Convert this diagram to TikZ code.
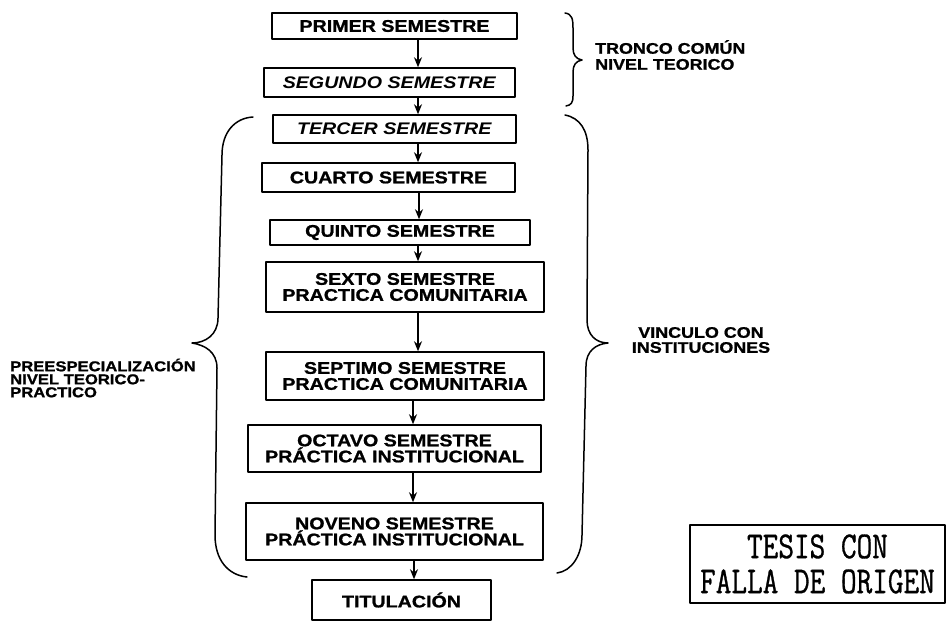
\documentclass[tikz,border=0pt]{standalone}
\usepackage{fontspec}
\setmainfont{Liberation Sans}[FakeStretch=1.17,BoldFeatures={FakeBold=1.2}]
\newfontfamily\stampfont{Latin Modern Mono}[FakeStretch=0.8,FakeBold=0.8]
\usetikzlibrary{arrows.meta}

\begin{document}
\begin{tikzpicture}[x=1pt,y=-1pt,>={Stealth[length=10pt,width=8pt]},line join=round,line cap=round,
    sem/.style={draw,line width=1.5pt,inner sep=0pt,align=center,font=\fontsize{16.8}{16}\selectfont\bfseries},
    lbl/.style={inner sep=0pt,font=\fontsize{15.3}{16}\selectfont\bfseries},
    brace/.style={line width=1.5pt}]
    \useasboundingbox (0,0) rectangle (947,621);
    \clip (0,0) rectangle (947,621);
    \node[sem,minimum width=245,minimum height=26] (b1) at (394.5,26) {PRIMER SEMESTRE};
    \node[sem,minimum width=251,minimum height=29] (b2) at (389.5,82.5) {\textit{SEGUNDO SEMESTRE}};
    \node[sem,minimum width=243,minimum height=28] (b3) at (394.5,129) {\textit{TERCER SEMESTRE}};
    \node[sem,minimum width=253,minimum height=29] (b4) at (388.5,177.5) {CUARTO SEMESTRE};
    \node[sem,minimum width=260,minimum height=25] (b5) at (400,232.5) {QUINTO SEMESTRE};
    \node[sem,minimum width=278,minimum height=50] (b6) at (405,287) {SEXTO SEMESTRE\\PRACTICA COMUNITARIA};
    \node[sem,minimum width=278,minimum height=48] (b7) at (405,376) {SEPTIMO SEMESTRE\\PRACTICA COMUNITARIA};
    \node[sem,minimum width=293,minimum height=47] (b8) at (394.5,448.5) {OCTAVO SEMESTRE\\PRÁCTICA INSTITUCIONAL};
    \node[sem,minimum width=297,minimum height=57] (b9) at (394.5,531.5) {NOVENO SEMESTRE\\PRÁCTICA INSTITUCIONAL};
    \node[sem,minimum width=179,minimum height=40] (b10) at (401.5,600) {TITULACIÓN};
    \foreach \a/\b/\x in {b1/b2/418,b2/b3/418,b3/b4/418,b4/b5/419,b5/b6/418,b6/b7/418,b7/b8/413,b8/b9/413,b9/b10/414}
        \draw[->,line width=1.5pt] (\a.south -| \x,0) -- (\b.north -| \x,0);
    \draw[brace] (565,13) .. controls (572,14) and (573,19) .. (573,28) -- (573,48)
        .. controls (573,55) and (576,59) .. (582,60) .. controls (576,61) and (573,65) .. (573,72)
        -- (573,96) .. controls (573,103) and (571,105) .. (566,106);
    \draw[brace] (565,115) .. controls (580,118) and (588,130) .. (588,150) -- (587,320)
        .. controls (587,335) and (596,343) .. (608,343) .. controls (596,344) and (586,351) .. (586,366)
        -- (582,535) .. controls (582,555) and (572,571) .. (557,573);
    \draw[brace] (253,117) .. controls (235,118) and (222,132) .. (222,155) -- (218,318)
        .. controls (218,335) and (205,343) .. (192,343) .. controls (205,345) and (217,352) .. (217,368)
        -- (215,535) .. controls (215,560) and (228,575) .. (247,577);
    \node[lbl,anchor=west,align=left] (tronco) at (595,55) {TRONCO COMÚN\\NIVEL TEORICO};
    \node[lbl,align=center,font=\fontsize{15.3}{15}\selectfont\bfseries] (vinculo) at (701,340) {VINCULO CON\\INSTITUCIONES};
    \node[lbl,anchor=west,align=left,font=\fontsize{14.2}{13}\selectfont\bfseries] (preesp) at (10,378) {PREESPECIALIZACIÓN\\NIVEL TEORICO-\\PRACTICO};
    \node[draw,line width=1.5pt,minimum width=255,minimum height=78,inner sep=0pt,align=center,
        font=\fontsize{38}{35}\stampfont] (sello) at (817.5,564) {TESIS CON\\FALLA DE ORIGEN};
\end{tikzpicture}
\end{document}
